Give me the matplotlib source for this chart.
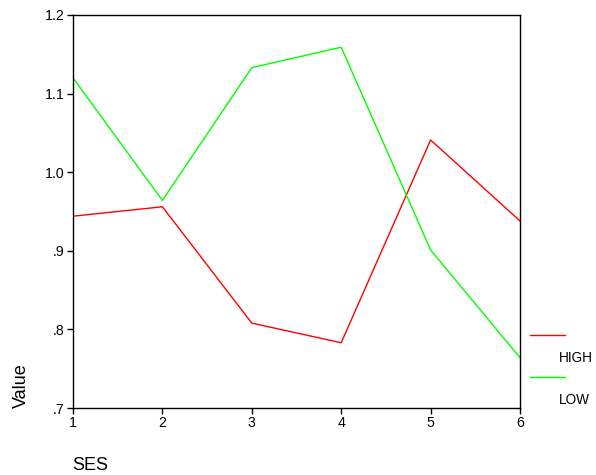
import matplotlib
matplotlib.use("Agg")
import matplotlib.pyplot as plt

ses = [1, 2, 3, 4, 5, 6]
high = [0.944, 0.956, 0.808, 0.783, 1.041, 0.938]
low = [1.120, 0.964, 1.133, 1.159, 0.901, 0.764]
yticks = [0.7, 0.8, 0.9, 1.0, 1.1, 1.2]
ytick_labels = [".7", ".8", ".9", "1.0", "1.1", "1.2"]

plt.rcParams['font.family'] = ['Liberation Sans', 'DejaVu Sans']

fig = plt.figure(figsize=(5.96, 4.75), dpi=100)
ax = fig.add_axes([73/596, 1 - 408/475, (520 - 73)/596, (408 - 15)/475])

lh, = ax.plot(ses, high, color="#ff0000", lw=1.0)
ll, = ax.plot(ses, low, color="#00ff00", lw=1.0)

ax.set_xlim(1, 6)
ax.set_ylim(0.7, 1.2)
ax.set_xticks(ses)
ax.set_xticklabels([str(s) for s in ses])
ax.set_yticks(yticks)
ax.set_yticklabels(ytick_labels)
ax.tick_params(direction="out", length=4, width=1, labelsize=10.2, pad=2)
for sp in ax.spines.values():
    sp.set_linewidth(1.0)

fig.text(21.5/596, 1 - 386/475, "Value", rotation=90, ha="center", va="center", fontsize=13)
fig.text(72/596, 1 - 466/475, "SES", ha="left", va="center", fontsize=13)

# legend drawn manually in figure coordinates
fig.lines.append(plt.Line2D([530/596, 565/596], [1 - 335/475, 1 - 335/475], color="#ff0000", lw=1.0, transform=fig.transFigure))
fig.lines.append(plt.Line2D([530/596, 565/596], [1 - 377/475, 1 - 377/475], color="#00ff00", lw=1.0, transform=fig.transFigure))
fig.text(559/596, 1 - 358/475, "HIGH", ha="left", va="center", fontsize=9.8)
fig.text(559/596, 1 - 400/475, "LOW", ha="left", va="center", fontsize=9.8)

fig.savefig("out.png", dpi=100)
